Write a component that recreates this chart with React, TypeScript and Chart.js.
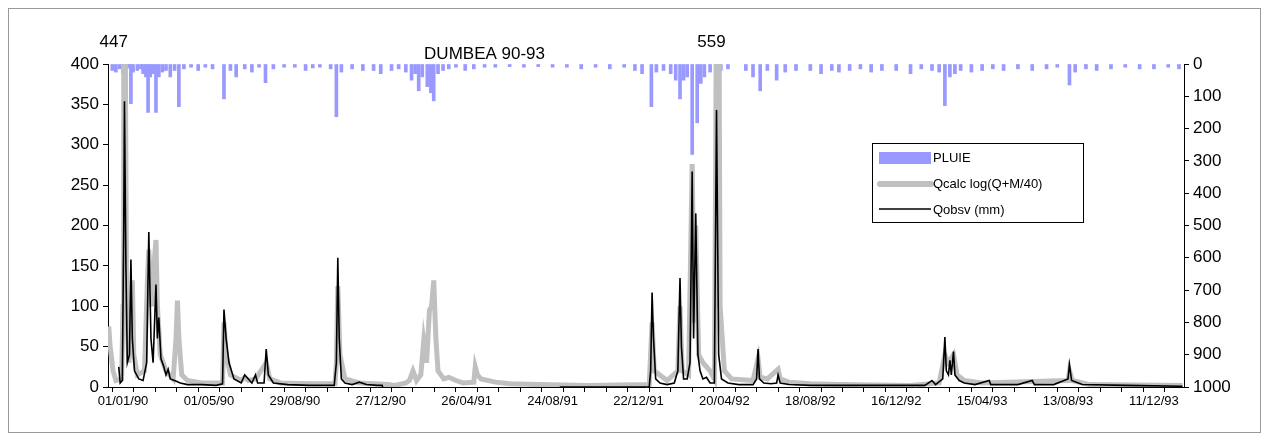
import React, { useEffect, useRef } from "react";
import { Chart, registerables } from "chart.js";
Chart.register(...registerables);

const START = Date.UTC(1990, 0, 1);
const tickStep = 120;
const title = "DUMBEA 90-93";
const legendLabels = ["PLUIE", "Qcalc log(Q+M/40)", "Qobsv (mm)"];

const qobsDays = [-6,-4,-1,1,2,4,6,9,11,13,16,22,28,33,36,39,42,46,48,50,53,57,60,63,66,72,80,90,110,130,139,141,144,148,155,165,170,175,180,185,188,197,200,203,210,230,260,295,298,300,302,305,310,320,330,340,355,362,366];
const qobsVals = [25,5,8,200,354,150,30,40,158,60,20,10,8,30,192,60,30,127,60,86,35,25,15,22,10,8,5,3,3,2,4,96,60,30,10,5,15,10,5,15,5,5,47,15,5,3,2,2,30,160,60,10,5,3,6,3,2,2,-10];
const qobsDays2 = [610,735,737,739,741,744,750,760,770,775,778,780,783,788,792,795,797,800,803,806,810,815,820,826,829,832,836,845,860,880,885,887,889,895,905,913,915,918,930,960,1000,1080,1120,1130,1135,1145,1148,1150,1153,1155,1157,1160,1162,1168,1175,1190,1210,1212,1250,1270,1273,1300,1320,1322,1325,1340,1400,1480];
const qobsVals2 = [0,0,20,117,60,10,5,3,5,20,135,50,10,10,30,267,60,215,40,20,10,12,5,5,343,40,10,5,3,3,10,47,10,5,4,5,15,5,3,2,2,2,2,8,3,10,62,20,15,33,15,44,15,8,5,3,8,3,3,8,3,3,10,28,8,3,2,1];

const qcalcDays = [-20,-18,-14,-10,-2,0,1,3,5,8,11,13,15,20,30,34,36,40,44,46,48,52,60,70,74,76,78,82,90,110,139,141,144,150,165,170,175,185,200,205,220,260,296,298,300,303,310,330,370,380,395,400,405,410,416,420,424,428,431,434,437,440,448,455,465,475,490,492,495,500,520,540,580,650,735,739,742,760,775,778,781,790,795,798,800,804,810,820,826,828,829,832,834,840,850,880,887,890,900,915,918,930,960,1000,1100,1140,1148,1152,1155,1160,1165,1175,1200,1320,1322,1326,1350,1480];
const qcalcVals = [75,50,20,8,10,100,447,447,100,30,60,132,40,15,20,130,170,100,160,182,100,40,20,10,60,107,60,15,8,5,5,80,40,15,8,12,8,10,30,10,5,4,4,30,125,40,10,5,3,2,5,8,20,8,15,57,30,95,100,132,60,20,10,12,8,5,6,25,15,10,6,4,3,2,3,80,20,8,20,100,20,15,276,80,200,40,30,20,10,300,559,559,100,20,10,8,35,12,10,22,10,6,4,3,2,5,40,30,33,40,15,8,5,8,20,8,3,2];

const rainDays = [-15,-10,-5,0,2,5,8,11,14,20,25,28,32,35,38,42,46,50,55,60,66,72,78,85,95,105,115,125,141,150,158,170,180,190,199,210,225,240,255,265,275,290,298,305,320,335,350,360,375,385,395,403,408,413,418,425,430,434,440,447,455,465,478,490,505,520,540,560,580,600,620,640,660,680,700,715,725,738,745,755,765,772,778,783,788,795,802,807,812,820,828,835,845,870,880,890,900,913,925,940,960,975,990,1000,1015,1030,1045,1060,1080,1100,1115,1130,1140,1148,1155,1162,1170,1185,1200,1215,1230,1250,1270,1290,1305,1322,1330,1345,1360,1380,1400,1420,1440,1460,1475];
const rainVals = [20,25,15,30,20,15,10,123,25,20,15,30,40,150,40,30,150,40,25,20,40,20,132,15,10,20,10,15,108,20,40,15,25,10,58,15,10,10,20,12,10,15,163,25,15,20,20,30,20,15,25,50,30,83,40,70,89,114,30,20,15,10,20,15,10,10,8,10,8,10,10,15,10,15,10,20,30,132,25,20,30,50,108,50,40,280,182,60,40,25,25,20,15,20,40,83,20,50,25,20,20,30,20,25,20,15,25,20,20,30,15,20,25,129,40,30,20,25,20,15,20,15,20,15,10,65,25,15,20,15,10,15,15,10,15];

const pts = (d: number[], v: number[]) => d.map((x, i) => ({ x, y: v[i] }));

function fmt(day: number) {
  const d = new Date(START + day * 86400000);
  const p = (n: number) => String(n).padStart(2, "0");
  return `${p(d.getUTCDate())}/${p(d.getUTCMonth() + 1)}/${p(d.getUTCFullYear() % 100)}`;
}

const FONT = "'Liberation Sans', Arial, sans-serif";

export default function App() {
  const ref = useRef<HTMLCanvasElement>(null);
  useEffect(() => {
    const overlay = {
      id: "overlay",
      afterDraw(chart: any) {
        const { ctx, scales } = chart;
        const x = scales.x;
        ctx.save();
        ctx.fillStyle = "#000";
        ctx.font = `17px ${FONT}`;
        ctx.textAlign = "center";
        ctx.textBaseline = "alphabetic";
        ctx.fillText(title, x.getPixelForValue(505), 50);
        ctx.fillText("447", x.getPixelForValue(-13), 38);
        ctx.fillText("559", x.getPixelForValue(822), 38);
        const lx = 863, ly = 134;
        ctx.fillStyle = "#fff";
        ctx.fillRect(lx, ly, 211, 79);
        ctx.strokeStyle = "#000";
        ctx.lineWidth = 1;
        ctx.strokeRect(lx + 0.5, ly + 0.5, 211, 79);
        ctx.font = `13px ${FONT}`;
        ctx.textAlign = "left";
        ctx.textBaseline = "middle";
        ctx.fillStyle = "#9999ff";
        ctx.fillRect(lx + 7, ly + 9, 52, 12);
        ctx.strokeStyle = "#c0c0c0";
        ctx.lineWidth = 6;
        ctx.lineCap = "round";
        ctx.beginPath(); ctx.moveTo(lx + 8, ly + 41); ctx.lineTo(lx + 59, ly + 41); ctx.stroke();
        ctx.strokeStyle = "#000";
        ctx.lineWidth = 1.5;
        ctx.lineCap = "butt";
        ctx.beginPath(); ctx.moveTo(lx + 7, ly + 66); ctx.lineTo(lx + 59, ly + 66); ctx.stroke();
        ctx.fillStyle = "#000";
        legendLabels.forEach((t, i) => ctx.fillText(t, lx + 61, ly + 15 + i * 26));
        ctx.restore();
      },
    };
    const chart = new Chart(ref.current!, {
      type: "bar",
      data: {
        datasets: [
          { type: "line", data: pts(qobsDays, qobsVals) as any, borderColor: "#000", borderWidth: 1.6, pointRadius: 0, yAxisID: "y", order: 1 },
          { type: "line", data: pts(qobsDays2, qobsVals2) as any, borderColor: "#000", borderWidth: 1.6, pointRadius: 0, yAxisID: "y", order: 1 },
          { type: "line", data: pts(qcalcDays, qcalcVals) as any, borderColor: "#c0c0c0", borderWidth: 5, pointRadius: 0, yAxisID: "y", order: 2 },
          { type: "bar", data: pts(rainDays, rainVals) as any, backgroundColor: "#9999ff", barThickness: 3, yAxisID: "y2", order: 3 },
        ],
      },
      options: {
        animation: false,
        responsive: false,
        layout: { padding: { top: 55, left: 0, right: 0, bottom: 0 } },
        plugins: { legend: { display: false }, tooltip: { enabled: false } },
        scales: {
          x: {
            type: "linear", min: -21, max: 1482, offset: false,
            afterBuildTicks: (s: any) => {
              const t = [];
              for (let d = 0; d <= 1482; d += 30) t.push({ value: d });
              s.ticks = t;
            },
            ticks: { autoSkip: false, maxRotation: 0, color: "#000", font: { family: FONT, size: 13 }, padding: 2,
              callback: (v: any) => (v % tickStep === 0 ? fmt(v) : "") },
            grid: { display: true, drawOnChartArea: false, tickLength: 5, color: "#000" },
            border: { color: "#000" },
            afterFit: (s: any) => { s.height = 45; },
          },
          y: {
            position: "left", min: 0, max: 400,
            ticks: { stepSize: 50, color: "#000", font: { family: FONT, size: 17 }, padding: 4, callback: (v: any) => String(v) },
            grid: { drawOnChartArea: false, tickLength: 5, color: "#000" },
            border: { color: "#000" },
            afterFit: (s: any) => { s.width = 99; },
          },
          y2: {
            position: "right", min: 0, max: 1000, reverse: true,
            ticks: { stepSize: 100, color: "#000", font: { family: FONT, size: 17 }, padding: 4, callback: (v: any) => String(v) },
            grid: { drawOnChartArea: false, tickLength: 5, color: "#000" },
            border: { color: "#000" },
            afterFit: (s: any) => { s.width = 76; },
          },
        },
      },
      plugins: [overlay],
    } as any);
    return () => chart.destroy();
  }, []);
  return (
    <div style={{ width: 1253, height: 425, border: "1px solid #999", boxSizing: "border-box" }}>
      <canvas ref={ref} width={1251} height={423} style={{ display: "block" }} />
    </div>
  );
}
